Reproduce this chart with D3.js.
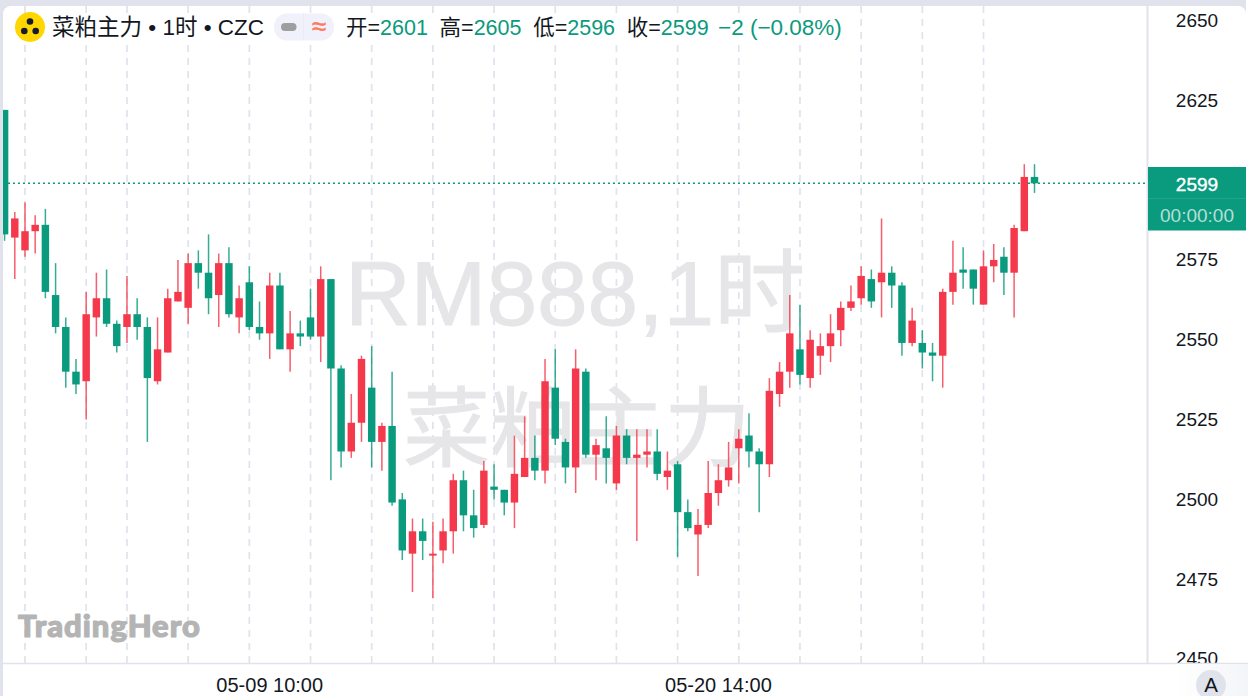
<!DOCTYPE html>
<html>
<head>
<meta charset="utf-8">
<script src="https://d3js.org/d3.v7.min.js"></script>
<style>
  body { margin: 0; background: #fff; }
  svg { display: block; }
  text { font-family: "Liberation Sans", "Noto Sans CJK SC", sans-serif; }
</style>
</head>
<body>
<svg id="chart" width="1248" height="696"></svg>
<script>
// hourly candles. red = up, green = down
const opens = [2622,2582,2578,2584,2586,2564,2554,2540,2537,2557,2563,2555,2554,2558,2554,2537,2546,2562,2560,2574,2571,2564,2574,2557,2568,2554,2552,2567,2547,2552,2557,2551,2569,2541,2515,2524,2535,2518,2523,2500,2483,2490,2483,2484,2490,2506,2495,2492,2504,2503,2499,2507,2513,2509,2535,2518,2510,2540,2514,2516,2505,2520,2513,2514,2515,2507,2511,2496,2489,2492,2502,2506,2516,2520,2515,2511,2533,2540,2547,2538,2545,2548,2553,2560,2563,2569,2568,2571,2567,2549,2549,2546,2545,2565,2572,2572,2561,2573,2576,2571,2584,2601];
const highs = [2622,2590,2593,2589,2591,2574,2557,2544,2565,2571,2572,2556,2570,2563,2557,2557,2566,2575,2577,2578,2583,2577,2579,2567,2573,2562,2571,2571,2559,2556,2566,2573,2569,2542,2533,2545,2548,2524,2540,2502,2494,2494,2493,2494,2508,2509,2503,2512,2511,2503,2520,2526,2520,2544,2547,2519,2547,2541,2519,2526,2523,2522,2522,2522,2522,2515,2512,2500,2497,2512,2511,2518,2522,2527,2516,2538,2543,2564,2561,2553,2552,2558,2562,2567,2573,2572,2588,2573,2568,2560,2553,2549,2566,2581,2579,2572,2578,2580,2579,2586,2605,2605];
const lows = [2581,2569,2576,2577,2563,2552,2535,2533,2525,2551,2554,2546,2549,2550,2518,2536,2546,2562,2555,2566,2558,2554,2557,2552,2553,2550,2544,2547,2540,2548,2550,2543,2506,2510,2513,2518,2510,2509,2498,2481,2471,2481,2469,2480,2483,2490,2488,2491,2500,2495,2491,2507,2506,2505,2517,2505,2502,2513,2506,2505,2503,2511,2487,2510,2506,2503,2482,2490,2476,2491,2498,2504,2505,2510,2496,2507,2529,2535,2536,2535,2539,2543,2548,2559,2561,2560,2557,2560,2545,2548,2541,2537,2535,2561,2566,2561,2561,2568,2564,2557,2584,2596];
const closes = [2583,2588,2584,2586,2565,2554,2540,2536,2558,2563,2555,2548,2558,2554,2538,2547,2563,2565,2574,2571,2563,2574,2558,2563,2554,2552,2567,2547,2552,2551,2551,2569,2541,2515,2524,2544,2518,2523,2499,2484,2490,2487,2483,2490,2506,2495,2491,2509,2503,2499,2508,2513,2509,2537,2519,2510,2541,2514,2517,2513,2520,2513,2514,2515,2508,2509,2496,2491,2492,2502,2506,2510,2519,2515,2511,2534,2540,2552,2539,2550,2548,2552,2560,2562,2570,2562,2571,2567,2549,2556,2546,2545,2565,2571,2571,2566,2573,2575,2571,2585,2601,2599];

const gridIndex = [2,8,12,18,24,30,36,42,48,54,60,66,72,78,84,90,96];
const timeIndex = [26,70];
const timeLabels = ["05-09 10:00","05-20 14:00"];
const priceTicks = [2450,2475,2500,2525,2550,2575,2625,2650];
const legendLabels = ["开","高","低","收"];
const changeText = "−2 (−0.08%)";

const UP = "#f5394c", DOWN = "#0a9a7d", LINE = "#e0e3ec", WATERMARK = "#e6e6e9";
const plotRight = 1148, plotBottom = 663;

const svg = d3.select("#chart");

svg.append("rect").attr("width", 1248).attr("height", 696).attr("fill", LINE);
svg.append("rect").attr("x", 1246).attr("width", 2).attr("height", 696).attr("fill", "#fff");
svg.append("rect").attr("x", 3).attr("y", 6).attr("width", 1243).attr("height", 700).attr("rx", 8).attr("fill", "#fff");

var x = d3.scaleBand()
  .domain(d3.range(opens.length))
  .range([-0.5, 1039.6])
  .paddingInner(0.27)
  .paddingOuter(0.135);
var y = d3.scaleLinear().domain([2450, 2650]).range([659, 20.5]);
const center = i => x(i) + x.bandwidth() / 2;

svg.append("clipPath").attr("id", "plot")
  .append("rect").attr("x", 3).attr("y", 6).attr("width", plotRight - 3).attr("height", plotBottom - 6);

const plot = svg.append("g").attr("clip-path", "url(#plot)");

// dashed vertical grid
plot.append("g").selectAll("line")
  .data(gridIndex).enter().append("line")
  .attr("x1", d => center(d)).attr("x2", d => center(d))
  .attr("y1", 6).attr("y2", plotBottom)
  .attr("stroke", LINE).attr("stroke-width", 1.7)
  .attr("stroke-dasharray", "7 6");

// watermark
plot.append("text").text("RM888,1时")
  .attr("x", 575).attr("y", 325).attr("text-anchor", "middle")
  .attr("fill", WATERMARK).attr("stroke", WATERMARK).attr("stroke-width", 1)
  .style("font-size", "91px");
plot.append("text").text("菜粕主力")
  .attr("x", 577).attr("y", 460).attr("text-anchor", "middle")
  .attr("fill", WATERMARK).attr("stroke", WATERMARK).attr("stroke-width", 1)
  .style("font-size", "87px");

// last price line
const last = closes.length - 1;
plot.append("line")
  .attr("x1", 3).attr("x2", plotRight)
  .attr("y1", y(closes[last])).attr("y2", y(closes[last]))
  .attr("stroke", DOWN).attr("stroke-width", 1.6)
  .attr("stroke-dasharray", "2 3");

const candles = plot.append("g").selectAll("g")
  .data(d3.range(opens.length)).enter().append("g");
const colorOf = i => closes[i] >= opens[i] ? UP : DOWN;

candles.append("line")
  .attr("x1", d => center(d)).attr("x2", d => center(d))
  .attr("y1", d => y(highs[d])).attr("y2", d => y(lows[d]))
  .attr("stroke", colorOf).attr("stroke-width", 1.5)
  .attr("stroke-opacity", 0.82);

candles.append("rect")
  .attr("x", d => x(d))
  .attr("width", x.bandwidth())
  .attr("y", d => y(Math.max(opens[d], closes[d])))
  .attr("height", d => Math.max(2, Math.abs(y(opens[d]) - y(closes[d]))))
  .attr("fill", colorOf);

// legend strip covers the grid
svg.append("rect").attr("x", 3).attr("y", 13).attr("width", 842).attr("height", 30).attr("fill", "#fff");

svg.append("circle").attr("cx", 30).attr("cy", 27).attr("r", 15).attr("fill", "#ffd600");
svg.append("g").selectAll("circle")
  .data([[30, 21.5], [24.3, 31], [35.7, 31]]).enter().append("circle")
  .attr("cx", d => d[0]).attr("cy", d => d[1]).attr("r", 3.3).attr("fill", "#161a30");

svg.append("text").text("菜粕主力 • 1时 • CZC")
  .attr("x", 52).attr("y", 35).attr("fill", "#131722").style("font-size", "22.5px");

svg.append("rect").attr("x", 274).attr("y", 13.5).attr("width", 60).attr("height", 27).attr("rx", 13).attr("fill", "#f0f1fa");
svg.append("line").attr("x1", 303.5).attr("x2", 303.5).attr("y1", 13.5).attr("y2", 40.5).attr("stroke", "#e9ebf5");
svg.append("rect").attr("x", 281).attr("y", 23).attr("width", 15.5).attr("height", 8).attr("rx", 4).attr("fill", "#9e9e9e");
svg.append("text").text("≈").attr("x", 319).attr("y", 35).attr("text-anchor", "middle")
  .attr("fill", "#ff7a59").attr("stroke", "#ff7a59").attr("stroke-width", 0.5).style("font-size", "26px");

const legendValues = [opens[last], highs[last], lows[last], closes[last]];
legendLabels.forEach((label, i) => {
  const t = svg.append("text").attr("x", 346 + 93.6 * i).attr("y", 35).style("font-size", "21.5px");
  t.append("tspan").text(label + "=").attr("fill", "#131722");
  t.append("tspan").text(legendValues[i]).attr("fill", DOWN);
});
svg.append("text").text(changeText).attr("x", 718).attr("y", 35)
  .attr("fill", DOWN).style("font-size", "22.5px");

// logo mark bottom left
svg.append("text").text("TradingHero")
  .attr("x", 18).attr("y", 637)
  .attr("fill", "#b4b4b4").attr("stroke", "#b4b4b4").attr("stroke-width", 1.2).attr("stroke-linejoin", "round")
  .style("font-family", "Lato").style("font-weight", 900).style("font-size", "31px").style("letter-spacing", "1px");

// axes
const yAxis = svg.append("g").attr("transform", `translate(${plotRight},0)`)
  .call(d3.axisRight(y).tickValues(priceTicks).tickSize(0).tickFormat(d3.format("d")));
yAxis.select(".domain").remove();
yAxis.selectAll("text").attr("x", 49).attr("dy", "0.31em").attr("text-anchor", "middle").attr("fill", "#131722")
  .style("font-family", null).style("font-size", "19px");

// bottom band hides the clipped 2450 label
svg.append("rect").attr("x", 1148).attr("y", plotBottom + 1).attr("width", 98).attr("height", 32).attr("fill", "#fff");

const xAxis = svg.append("g").attr("transform", `translate(0,${plotBottom})`)
  .call(d3.axisBottom(x).tickValues(timeIndex).tickSize(0).tickFormat((d, i) => timeLabels[i]));
xAxis.select(".domain").remove();
xAxis.selectAll("text").attr("y", 15).attr("dy", "0.71em").attr("fill", "#131722")
  .style("font-family", null).style("font-size", "20px");

svg.append("line").attr("x1", 3).attr("x2", 1248).attr("y1", plotBottom + 0.5).attr("y2", plotBottom + 0.5)
  .attr("stroke", LINE).attr("stroke-width", 1.5);
svg.append("line").attr("x1", plotRight - 0.5).attr("x2", plotRight - 0.5).attr("y1", 6).attr("y2", plotBottom)
  .attr("stroke", LINE).attr("stroke-width", 2);

// price tag
svg.append("rect").attr("x", 1148).attr("y", 167).attr("width", 98).attr("height", 63.5).attr("fill", DOWN);
svg.append("line").attr("x1", 1148).attr("x2", 1246).attr("y1", 198.5).attr("y2", 198.5).attr("stroke", "#fff").attr("stroke-opacity", 0.1);
svg.append("text").text(closes[last]).attr("x", 1197).attr("y", 190.5).attr("text-anchor", "middle")
  .attr("fill", "#fff").attr("stroke", "#fff").attr("stroke-width", 0.4).style("font-size", "19px");
svg.append("text").text("00:00:00").attr("x", 1197).attr("y", 221.5).attr("text-anchor", "middle")
  .attr("fill", "#fff").attr("fill-opacity", 0.7).style("font-size", "19px");

// auto scale button
const fade = svg.append("linearGradient").attr("id", "fade");
fade.append("stop").attr("offset", 0).attr("stop-color", "#fff");
fade.append("stop").attr("offset", 1).attr("stop-color", "#f4f5f8");
svg.append("rect").attr("x", 1175).attr("y", plotBottom + 1).attr("width", 73).attr("height", 32).attr("fill", "url(#fade)");
svg.append("circle").attr("cx", 1211).attr("cy", 685).attr("r", 15).attr("fill", LINE);
svg.append("text").text("A").attr("x", 1211).attr("y", 691.5).attr("text-anchor", "middle")
  .attr("fill", "#131722").style("font-size", "20.5px");
</script>
</body>
</html>
